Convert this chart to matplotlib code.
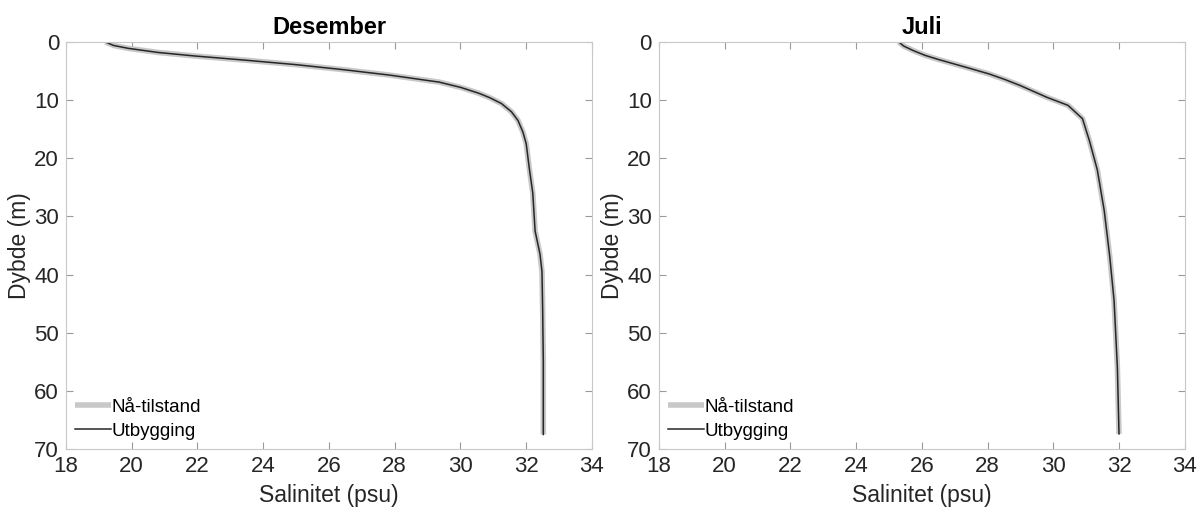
import matplotlib
matplotlib.use("Agg")
import matplotlib.pyplot as plt

plt.rcParams['font.family'] = ['Liberation Sans', 'DejaVu Sans']

## ## data (depth in m, salinity in psu)
dybde_des = [0, 0.6, 1.1, 1.8, 2.4, 3.1, 3.9, 4.8, 5.7, 6.3, 6.9, 7.8, 8.8, 9.6,
             10.6, 12.0, 13.5, 15.5, 17.5, 22.0, 26.0, 32.5, 36.5, 39.5, 46.0, 55.0, 67.5]
sal_des_naa = [19.2, 19.45, 19.9, 20.8, 21.9, 23.4, 25.0, 26.5, 27.85, 28.6, 29.35, 30.0,
               30.55, 30.9, 31.25, 31.55, 31.75, 31.9, 32.0, 32.1, 32.2, 32.27, 32.42,
               32.48, 32.5, 32.52, 32.52]
sal_des_utb = [19.2, 19.45, 19.9, 20.8, 21.9, 23.4, 25.0, 26.5, 27.85, 28.6, 29.35, 30.0,
               30.55, 30.9, 31.25, 31.55, 31.75, 31.9, 32.0, 32.1, 32.2, 32.27, 32.42,
               32.48, 32.5, 32.52, 32.52]

dybde_jul = [0, 0.7, 1.5, 2.3, 3.0, 3.8, 4.6, 5.5, 6.5, 7.5, 8.5, 9.5, 10.9, 13.2, 17.0,
             22.0, 29.0, 37.0, 44.5, 56.0, 67.4]
sal_jul_naa = [25.3, 25.45, 25.75, 26.1, 26.5, 27.0, 27.5, 28.05, 28.55, 29.0, 29.4, 29.8,
               30.45, 30.89, 31.1, 31.34, 31.55, 31.72, 31.85, 31.95, 32.0]
sal_jul_utb = [25.3, 25.45, 25.75, 26.1, 26.5, 27.0, 27.5, 28.05, 28.55, 29.0, 29.4, 29.8,
               30.45, 30.89, 31.1, 31.34, 31.55, 31.72, 31.85, 31.95, 32.0]

titler = ["Desember", "Juli"]
serier = [(dybde_des, sal_des_naa, sal_des_utb), (dybde_jul, sal_jul_naa, sal_jul_utb)]

fig = plt.figure(figsize=(12, 5.12), dpi=100)
posisjoner = [[0.055, 0.123, 0.4383, 0.795], [0.549, 0.123, 0.4383, 0.795]]

for pos, tittel, (dyp, naa, utb) in zip(posisjoner, titler, serier):
    ax = fig.add_axes(pos)
    ax.plot(naa, dyp, color="#c8c8c8", linewidth=4, label="Nå-tilstand", solid_capstyle="butt")
    ax.plot(utb, dyp, color="#262626", linewidth=1.1, label="Utbygging")
    ax.set_xlim(18, 34)
    ax.set_ylim(70, 0)
    ax.set_xticks(range(18, 35, 2))
    ax.set_yticks(range(0, 71, 10))
    ax.tick_params(direction="in", top=True, right=True, length=5, width=0.8,
                   colors="#9a9a9a", labelcolor="#262626", labelsize=16)
    ax.tick_params(axis="x", pad=5)
    ax.tick_params(axis="y", pad=5)
    for s in ax.spines.values():
        s.set_color("#c8c8c8")
        s.set_linewidth(0.8)
    ax.set_xlabel("Salinitet (psu)", fontsize=16.5, color="#262626", labelpad=5)
    ax.set_ylabel("Dybde (m)", fontsize=16.5, color="#262626", labelpad=2)
    ax.set_title(tittel, fontsize=17, fontweight="bold", pad=6)
    ax.legend(loc="lower left", frameon=False, fontsize=13.5, handlelength=1.9,
              handletextpad=0.05, labelspacing=0.35, borderaxespad=0.3, borderpad=0.2)

fig.savefig("out.png", dpi=100)
